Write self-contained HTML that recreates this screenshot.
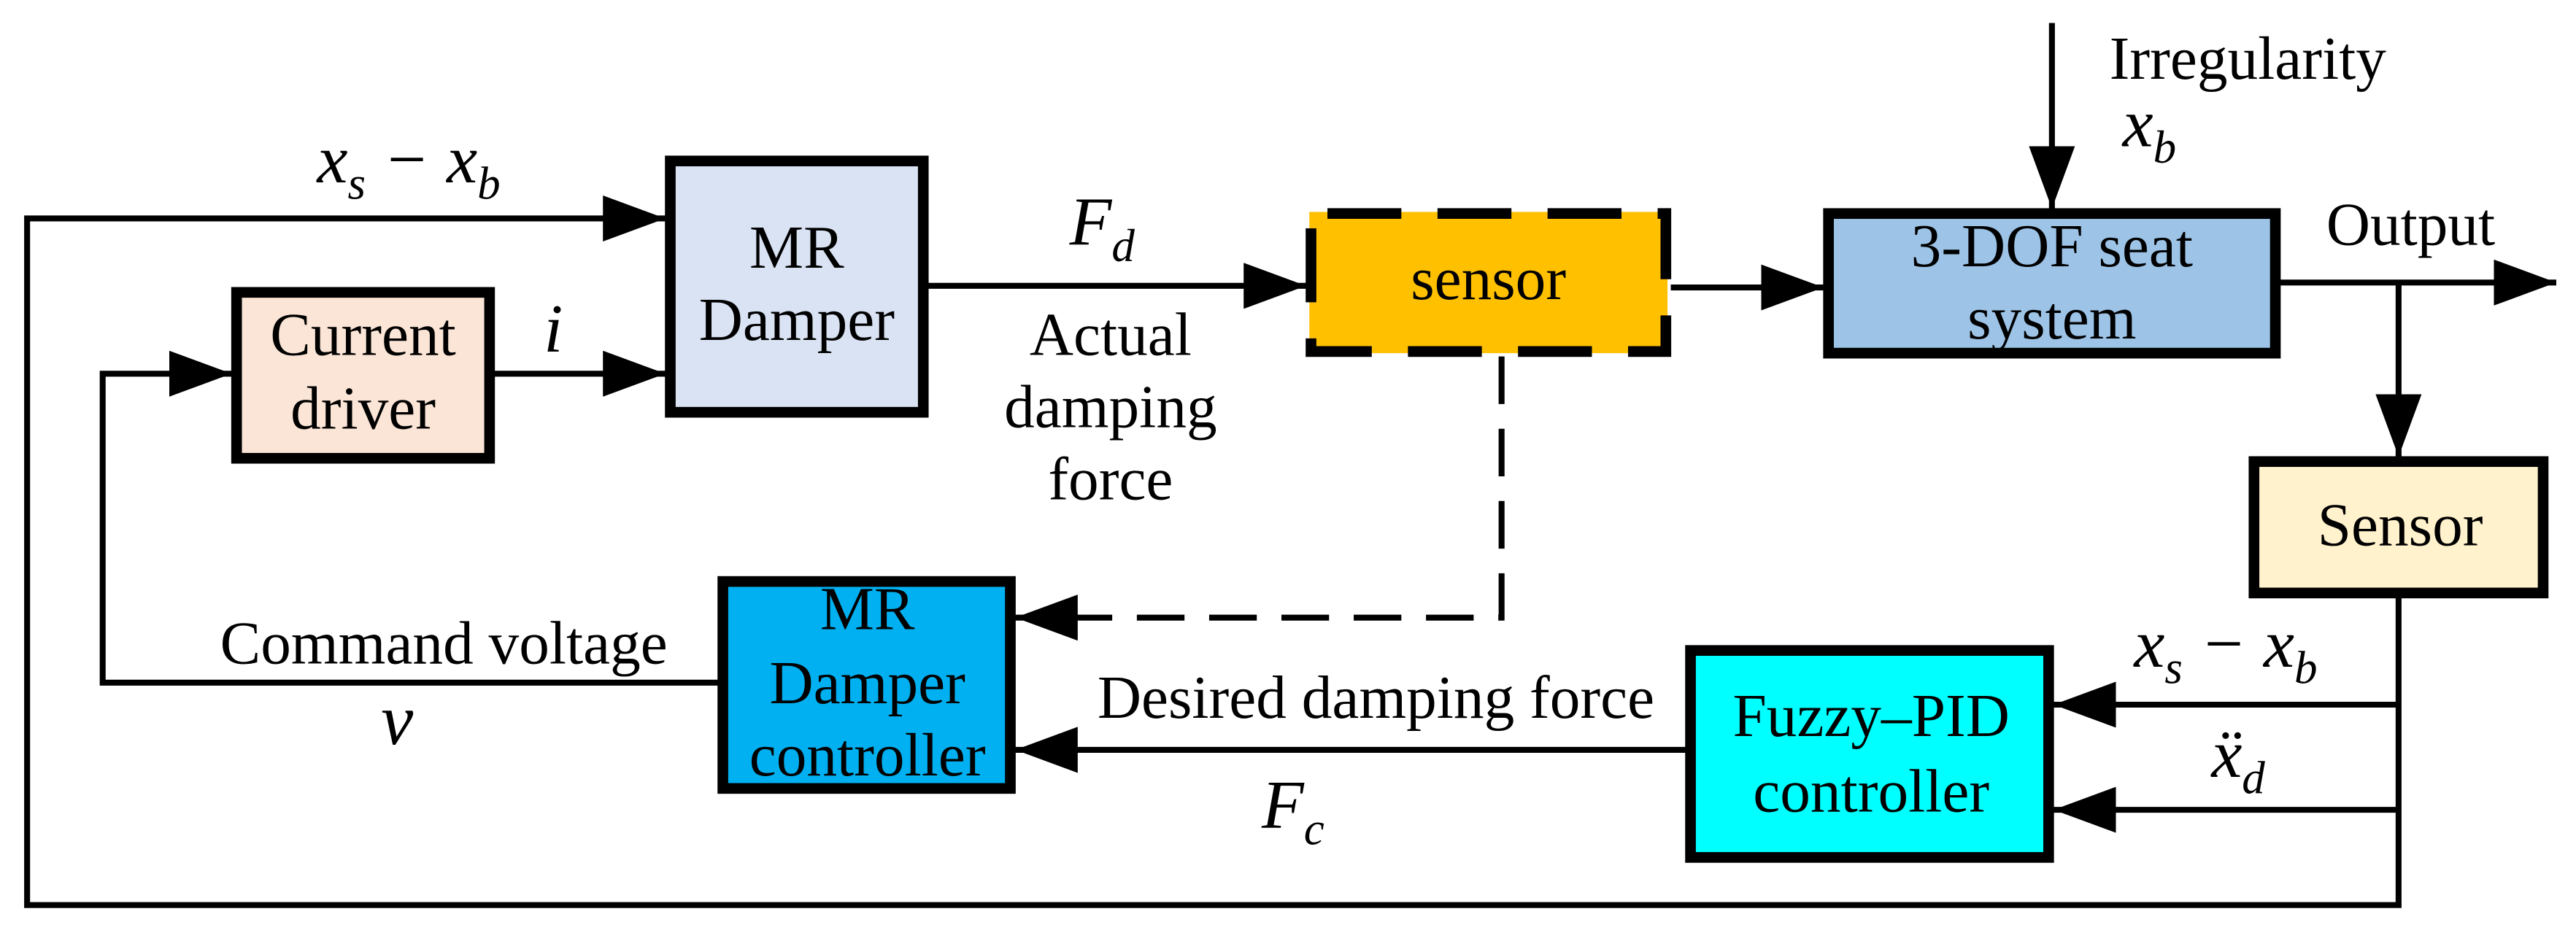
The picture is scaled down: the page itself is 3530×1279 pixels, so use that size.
<!DOCTYPE html>
<html><head><meta charset="utf-8"><style>
html,body{margin:0;padding:0;background:#fff;}
#w{position:absolute;left:0;top:0;width:1568px;height:568px;transform-origin:0 0;transform:scale(2.25128,2.25176);}
svg{position:absolute;left:0;top:0;display:block;}
.t{position:absolute;font-family:"Liberation Serif","Times New Roman",serif;font-size:37px;line-height:37px;white-space:nowrap;color:#000;}
.c{transform:translateX(-50%);}
.i{font-style:italic;font-size:42px;line-height:42px;}
.i sub{font-size:28px;vertical-align:-10px;line-height:0;}
</style></head><body>
<div id="w">
<svg width="1568" height="568" viewBox="0 0 1568 568" xmlns="http://www.w3.org/2000/svg">
<defs>
<marker id="a" markerUnits="userSpaceOnUse" markerWidth="40" markerHeight="30" refX="38" refY="14" orient="auto">
<path d="M0,0 L38,14 L0,28 Z" fill="#000"/>
</marker>
</defs>
<g stroke="#000" stroke-width="3.6" fill="none">
<polyline points="1460,364 1460,551 16.5,551 16.5,133 405,133" marker-end="url(#a)"/>
<line x1="301" y1="227.5" x2="405" y2="227.5" marker-end="url(#a)"/>
<polyline points="437,415.6 62.5,415.6 62.5,227.5 141,227.5" marker-end="url(#a)"/>
<line x1="565" y1="174" x2="795" y2="174" marker-end="url(#a)"/>
<line x1="1017" y1="175" x2="1110" y2="175" marker-end="url(#a)"/>
<line x1="1249" y1="14" x2="1249" y2="127" marker-end="url(#a)"/>
<line x1="1388" y1="172" x2="1556" y2="172" marker-end="url(#a)"/>
<line x1="1460" y1="172" x2="1460" y2="278" marker-end="url(#a)"/>
<line x1="1460" y1="429" x2="1250" y2="429" marker-end="url(#a)"/>
<line x1="1460" y1="493" x2="1250" y2="493" marker-end="url(#a)"/>
<line x1="1026" y1="456.5" x2="618" y2="456.5" marker-end="url(#a)"/>
<polyline points="914,217 914,376 618,376" stroke-dasharray="29,15" marker-end="url(#a)"/>
</g>
<g stroke="#000" stroke-width="6.5">
<rect x="408" y="98" width="154" height="153" fill="#dae3f3"/>
<rect x="144" y="178" width="154" height="101" fill="#fbe5d6"/>
<rect x="440" y="354" width="175" height="126" fill="#00b0f0"/>
<rect x="1113" y="130" width="272" height="85" fill="#9dc3e6"/>
<rect x="1372" y="281" width="176" height="80" fill="#fff2cc"/>
<rect x="1029" y="396" width="218" height="126" fill="#00ffff"/>
</g>
<rect x="797" y="129" width="218" height="86" fill="#ffc000"/>
<rect x="798" y="130" width="216" height="84" fill="none" stroke="#000" stroke-width="6.5" stroke-dasharray="45,22" stroke-dashoffset="-10"/>
</svg>
<div class="t c" style="left:485px;top:133px">MR</div>
<div class="t c" style="left:485px;top:177px">Damper</div>
<div class="t c" style="left:221px;top:186px">Current</div>
<div class="t c" style="left:221px;top:231px">driver</div>
<div class="t i" style="left:331px;top:180px">i</div>
<div class="t i" style="left:193px;top:77px">x<sub>s</sub> − x<sub>b</sub></div>
<div class="t i" style="left:651px;top:115px">F<sub>d</sub></div>
<div class="t c" style="left:676px;top:186px">Actual</div>
<div class="t c" style="left:676px;top:230px">damping</div>
<div class="t c" style="left:676px;top:274px">force</div>
<div class="t c" style="left:906px;top:152px">sensor</div>
<div class="t c" style="left:1249px;top:132px">3-DOF seat</div>
<div class="t c" style="left:1249px;top:176px">system</div>
<div class="t" style="left:1284px;top:18px">Irregularity</div>
<div class="t i" style="left:1292px;top:55px">x<sub>b</sub></div>
<div class="t" style="left:1416px;top:119px">Output</div>
<div class="t c" style="left:1461px;top:302px">Sensor</div>
<div class="t c" style="left:528px;top:353px">MR</div>
<div class="t c" style="left:528px;top:398px">Damper</div>
<div class="t c" style="left:528px;top:442px">controller</div>
<div class="t" style="left:134px;top:374px">Command voltage</div>
<div class="t i" style="left:232px;top:418px;font-size:44px">v</div>
<div class="t" style="left:668px;top:407px">Desired damping force</div>
<div class="t i" style="left:768px;top:470px">F<sub>c</sub></div>
<div class="t c" style="left:1139px;top:418px">Fuzzy–PID</div>
<div class="t c" style="left:1139px;top:464px">controller</div>
<div class="t i" style="left:1299px;top:372px">x<sub>s</sub> − x<sub>b</sub></div>
<div class="t i" style="left:1346px;top:439px">ẍ<sub>d</sub></div>
</div>
</body></html>
